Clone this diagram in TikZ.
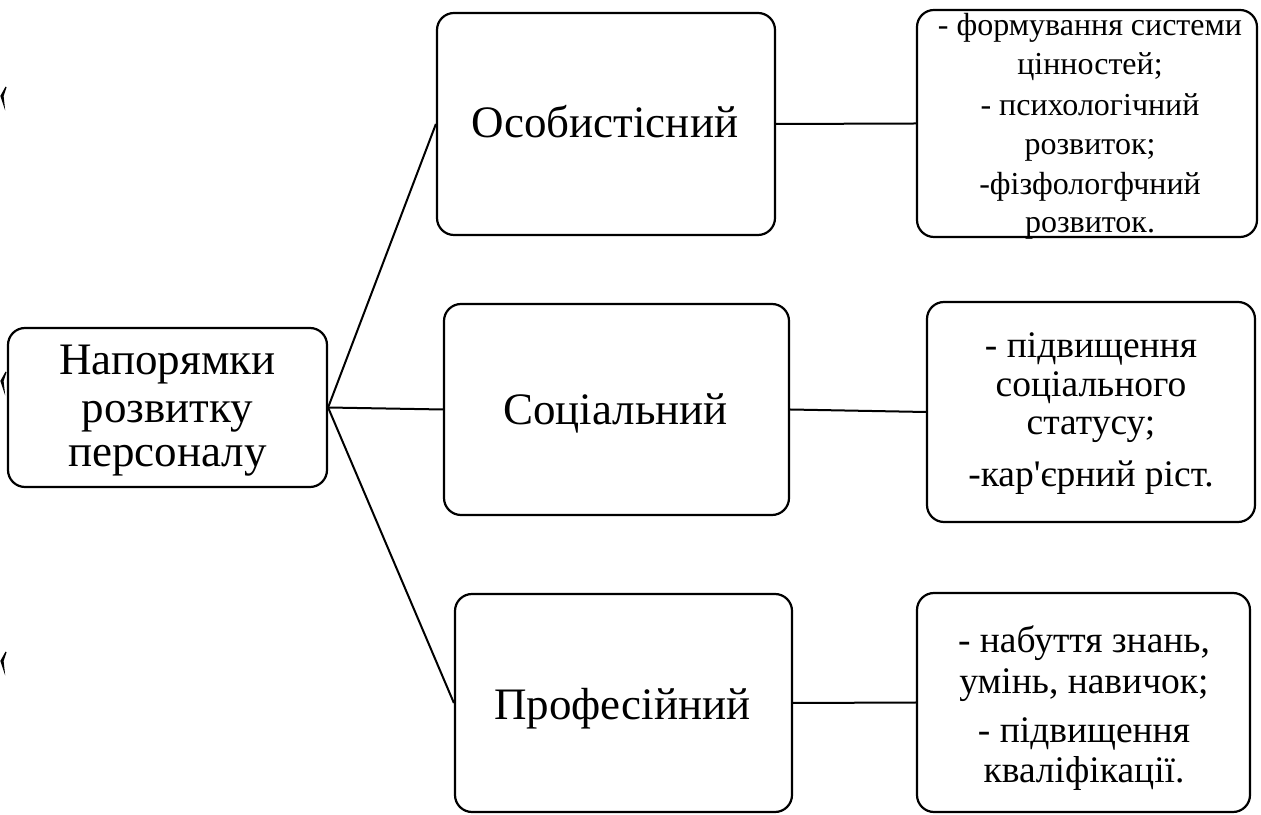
\documentclass[tikz,border=0pt]{standalone}
\usepackage{fontspec}
\setmainfont{Liberation Serif}[Ligatures=TeXOff]
\begin{document}
\begin{tikzpicture}[x=1pt,y=1pt,
  box/.style={draw, line width=2.2pt, rounded corners=17pt, inner sep=0pt, fill=white},
  big/.style={font=\fontsize{45}{47}\selectfont, anchor=base, inner sep=0pt},
  mid/.style={font=\fontsize{37.5}{40}\selectfont, anchor=base, inner sep=0pt},
  sml/.style={font=\fontsize{32}{34}\selectfont, anchor=base, inner sep=0pt},
  link/.style={line width=2pt}]
\useasboundingbox (0,0) rectangle (1261,814);
% boxes
\node[box, minimum width=319pt, minimum height=159pt] (root) at (167.5,406.5) {};
\node[box, minimum width=338pt, minimum height=222pt] (os) at (606,690) {};
\node[box, minimum width=345pt, minimum height=211pt] (so) at (616.5,404.5) {};
\node[box, minimum width=337pt, minimum height=218pt] (pr) at (623.5,111) {};
\node[box, minimum width=340pt, minimum height=227pt] (r1) at (1087,690.5) {};
\node[box, minimum width=328pt, minimum height=220pt] (r2) at (1091,402) {};
\node[box, minimum width=333pt, minimum height=219pt] (r3) at (1083.5,111.5) {};
% connectors
\draw[link] (root.east) -- (os.west);
\draw[link] (root.east) -- (so.west);
\draw[link] (root.east) -- (pr.west);
\draw[link] (os.east) -- (r1.west);
\draw[link] (so.east) -- (r2.west);
\draw[link] (pr.east) -- (r3.west);
% texts
\node[big] (ta) at (167.5,439) {Напорямки};
\node[big] (tb) at (167.5,391) {розвитку};
\node[big] (tc) at (167.5,347) {персоналу};
\node[big] (tos) at (605,676) {Особистісний};
\node[big] (tso) at (615.5,389) {Соціальний};
\node[big] (tpr) at (622.5,94) {Професійний};
\node[sml] (r1a) at (1090,778) {- формування системи};
\node[sml] (r1b) at (1090,739) {цінностей;};
\node[sml] (r1c) at (1090,698) {- психологічний};
\node[sml] (r1d) at (1090,659) {розвиток;};
\node[sml] (r1e) at (1090,619) {-фізфологфчний};
\node[sml] (r1f) at (1090,581) {розвиток.};
\node[mid] (r2a) at (1091,456) {- підвищення};
\node[mid] (r2b) at (1091,417) {соціального};
\node[mid] (r2c) at (1091,379) {статусу;};
\node[mid] (r2d) at (1091,327) {-кар'єрний ріст.};
\node[mid] (r3a) at (1084,161) {- набуття знань,};
\node[mid] (r3b) at (1084,120) {умінь, навичок;};
\node[mid] (r3c) at (1084,71) {- підвищення};
\node[mid] (r3d) at (1084,31) {кваліфікації.};
% small marks at the left edge
\draw[line width=1.2pt, fill=black] (6,727) -- (1,718) -- (4,709) -- (3,718) -- cycle;
\draw[line width=1.2pt, fill=black] (6,442) -- (1,433) -- (4,424) -- (3,433) -- cycle;
\draw[line width=1.2pt, fill=black] (6,162) -- (1,153) -- (4,144) -- (3,153) -- cycle;
\end{tikzpicture}
\end{document}
